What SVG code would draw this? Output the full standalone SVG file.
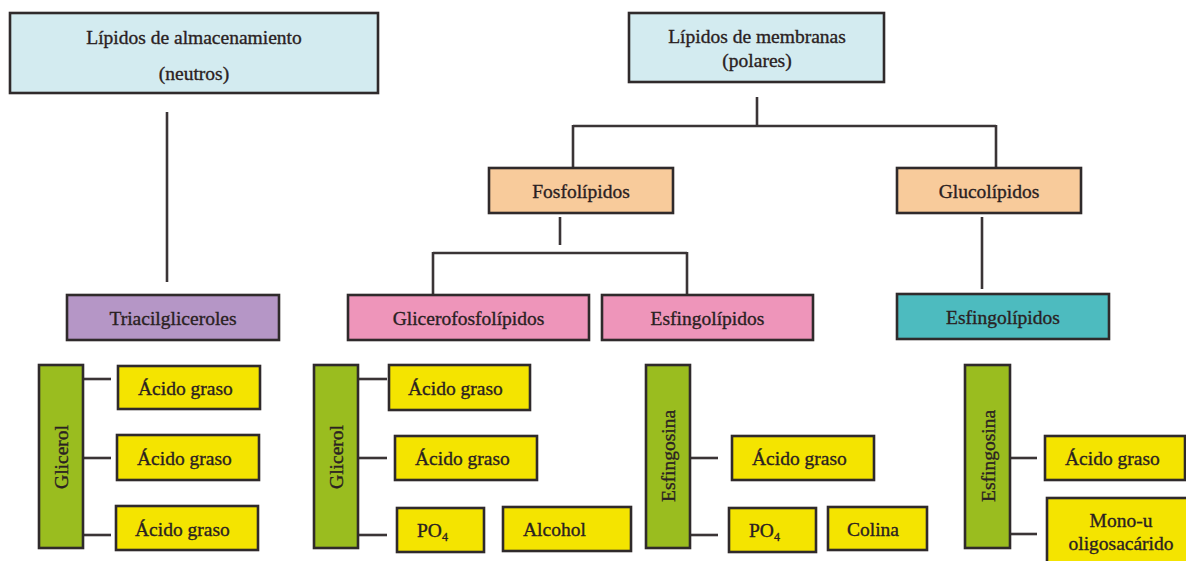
<svg xmlns="http://www.w3.org/2000/svg" width="1186" height="561" viewBox="0 0 1186 561">
<style>
rect{stroke:#2f2a2b;stroke-width:2.6}
.blue{fill:#d3ebf0}.peach{fill:#f8cb9b}.purple{fill:#b596c6}.pink{fill:#ee95ba}.teal{fill:#4dbbbf}.green{fill:#9abd1f}.yellow{fill:#f4e400}
text{font-family:"Liberation Serif","Times New Roman",serif;font-size:19.5px;fill:#2a2122;stroke:#2a2122;stroke-width:0.35}
.c{text-anchor:middle}
#connectors line{stroke:#3a3436;stroke-width:2.6;fill:none}
</style>
<g id="connectors">
<line x1="167" y1="112" x2="167" y2="282"/>
<line x1="757" y1="97" x2="757" y2="126"/>
<line x1="573" y1="126" x2="996" y2="126"/>
<line x1="573" y1="125" x2="573" y2="168"/>
<line x1="996" y1="125" x2="996" y2="168"/>
<line x1="560" y1="217" x2="560" y2="245"/>
<line x1="433" y1="253" x2="687" y2="253"/>
<line x1="433" y1="252" x2="433" y2="295"/>
<line x1="687" y1="252" x2="687" y2="295"/>
<line x1="982" y1="217" x2="982" y2="289"/>
<line x1="83" y1="379" x2="111" y2="379"/>
<line x1="83" y1="458" x2="111" y2="458"/>
<line x1="83" y1="535" x2="111" y2="535"/>
<line x1="358" y1="379" x2="387" y2="379"/>
<line x1="358" y1="458" x2="387" y2="458"/>
<line x1="358" y1="535" x2="387" y2="535"/>
<line x1="690" y1="458" x2="718" y2="458"/>
<line x1="690" y1="535" x2="718" y2="535"/>
<line x1="1010" y1="458" x2="1037" y2="458"/>
<line x1="1010" y1="534" x2="1037" y2="534"/>
</g>
<g id="lipidos-almacenamiento"><rect class="blue" x="10" y="13" width="368" height="80"/><text class="c" x="194" y="44">Lípidos de almacenamiento</text><text class="c" x="194" y="80">(neutros)</text></g>
<g id="lipidos-membranas"><rect class="blue" x="629" y="13" width="255" height="69"/><text class="c" x="757" y="43">Lípidos de membranas</text><text class="c" x="757" y="67">(polares)</text></g>
<g id="fosfolipidos"><rect class="peach" x="489" y="168" width="184" height="45"/><text class="c" x="581" y="198">Fosfolípidos</text></g>
<g id="glucolipidos"><rect class="peach" x="897" y="168" width="184" height="45"/><text class="c" x="989" y="198">Glucolípidos</text></g>
<g id="triacilgliceroles"><rect class="purple" x="67" y="295" width="212" height="45"/><text class="c" x="173" y="324.5">Triacilgliceroles</text></g>
<g id="glicerofosfolipidos"><rect class="pink" x="348" y="295" width="241" height="45"/><text class="c" x="468.5" y="324.5">Glicerofosfolípidos</text></g>
<g id="esfingolipidos-1"><rect class="pink" x="602" y="295" width="211" height="45"/><text class="c" x="707.5" y="324.5">Esfingolípidos</text></g>
<g id="esfingolipidos-2"><rect class="teal" x="897" y="294" width="212" height="45"/><text class="c" x="1003" y="324">Esfingolípidos</text></g>
<g id="glicerol-1"><rect class="green" x="39" y="365" width="44" height="183"/><text class="c" transform="translate(68,457) rotate(-90)">Glicerol</text></g>
<g id="acido-1"><rect class="yellow" x="118" y="366" width="142" height="43"/><text x="138" y="395">Ácido graso</text></g>
<g id="acido-2"><rect class="yellow" x="117" y="435" width="142" height="45"/><text x="137" y="465">Ácido graso</text></g>
<g id="acido-3"><rect class="yellow" x="116" y="506" width="142" height="44"/><text x="135" y="536">Ácido graso</text></g>
<g id="glicerol-2"><rect class="green" x="314" y="365" width="44" height="183"/><text class="c" transform="translate(343,457) rotate(-90)">Glicerol</text></g>
<g id="acido-4"><rect class="yellow" x="389" y="365" width="141" height="45"/><text x="408" y="395">Ácido graso</text></g>
<g id="acido-5"><rect class="yellow" x="395" y="436" width="142" height="44"/><text x="415" y="465">Ácido graso</text></g>
<g id="po4-1"><rect class="yellow" x="397" y="508" width="87" height="44"/><text x="417" y="537">PO<tspan font-size="12" dy="4">4</tspan></text></g>
<g id="alcohol"><rect class="yellow" x="503" y="507" width="128" height="44"/><text x="523" y="536">Alcohol</text></g>
<g id="esfingosina-1"><rect class="green" x="646" y="365" width="44" height="183"/><text class="c" transform="translate(675,456) rotate(-90)">Esfingosina</text></g>
<g id="acido-6"><rect class="yellow" x="732" y="436" width="142" height="44"/><text x="752" y="465">Ácido graso</text></g>
<g id="po4-2"><rect class="yellow" x="729" y="508" width="87" height="44"/><text x="749" y="537">PO<tspan font-size="12" dy="4">4</tspan></text></g>
<g id="colina"><rect class="yellow" x="828" y="507" width="99" height="43"/><text x="847" y="536">Colina</text></g>
<g id="esfingosina-2"><rect class="green" x="965" y="365" width="45" height="183"/><text class="c" transform="translate(994.5,456) rotate(-90)">Esfingosina</text></g>
<g id="acido-7"><rect class="yellow" x="1045" y="436" width="140" height="44"/><text x="1065" y="465">Ácido graso</text></g>
<g id="mono-oligosacarido"><rect class="yellow" x="1047" y="498" width="150" height="80"/><text class="c" x="1121" y="527">Mono-u</text><text class="c" x="1121" y="550">oligosacárido</text></g>
</svg>
